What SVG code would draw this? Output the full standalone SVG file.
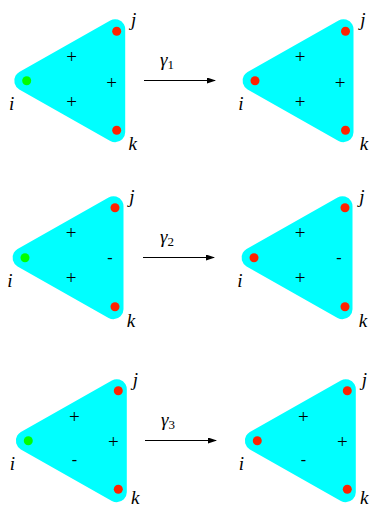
<svg xmlns="http://www.w3.org/2000/svg" width="372" height="508" viewBox="0 0 372 508">
<defs>
<style>
.tri{fill:#00ffff;stroke:#00ffff;stroke-width:20;stroke-linejoin:round}
.g{fill:#00ff00}
.r{fill:#ff2200}
.lab{font-family:'Liberation Serif',serif;font-style:italic;font-size:19px;fill:#000;text-anchor:middle}
.sg{font-family:'Liberation Serif',serif;font-size:19px;fill:#000;text-anchor:middle}
.mn{font-family:'Liberation Serif',serif;font-size:16px;fill:#000;text-anchor:middle}
.gam{font-family:'Liberation Serif',serif;font-style:italic;font-size:19px;fill:#000}
.sub{font-family:'Liberation Serif',serif;font-size:13px;fill:#000}
.arr{stroke:#000;stroke-width:1;fill:none;marker-end:url(#ah)}
</style>
<marker id="ah" markerWidth="9" markerHeight="6" refX="8" refY="3" orient="auto" markerUnits="userSpaceOnUse">
<path d="M0,0 L9,3 L0,6 Z" fill="#000"/>
</marker>
<polygon id="shape" class="tri" points="-2.5,0 88.5,-51.5 88.5,51.5"/>
</defs>

<g id="row1-left" transform="translate(26.7,80.7)">
<use href="#shape"/>
<circle class="g" cx="0" cy="0" r="4.5"/>
<circle class="r" cx="90" cy="-49.5" r="4.5"/>
<circle class="r" cx="90" cy="49.5" r="4.5"/>
<text class="sg" x="45" y="-17.5">+</text>
<text class="sg" x="45" y="27.5">+</text>
<text class="sg" x="85" y="8.5">+</text>
<text class="lab" x="-15" y="29.5">i</text>
<text class="lab" x="107" y="-55">j</text>
<text class="lab" x="106" y="69">k</text>
</g>

<g id="row1-right" transform="translate(255,80.7)">
<use href="#shape"/>
<circle class="r" cx="0" cy="0" r="4.5"/>
<circle class="r" cx="90.5" cy="-49.5" r="4.5"/>
<circle class="r" cx="90.5" cy="49.5" r="4.5"/>
<text class="sg" x="45" y="-17.5">+</text>
<text class="sg" x="45" y="27.5">+</text>
<text class="sg" x="85" y="8.5">+</text>
<text class="lab" x="-14" y="29.5">i</text>
<text class="lab" x="108" y="-55">j</text>
<text class="lab" x="109" y="69">k</text>
</g>

<g id="row2-left" transform="translate(25,257.7)">
<use href="#shape"/>
<circle class="g" cx="0" cy="0" r="4.5"/>
<circle class="r" cx="90" cy="-50" r="4.5"/>
<circle class="r" cx="90" cy="49" r="4.5"/>
<text class="sg" x="46" y="-18.5">+</text>
<text class="sg" x="46" y="26.5">+</text>
<text class="mn" x="85" y="5.5">-</text>
<text class="lab" x="-15" y="29.5">i</text>
<text class="lab" x="107" y="-55">j</text>
<text class="lab" x="106" y="69">k</text>
</g>

<g id="row2-right" transform="translate(254,257.7)">
<use href="#shape"/>
<circle class="r" cx="0" cy="0" r="4.5"/>
<circle class="r" cx="91" cy="-50" r="4.5"/>
<circle class="r" cx="91" cy="49" r="4.5"/>
<text class="sg" x="46" y="-18.5">+</text>
<text class="sg" x="46" y="26.5">+</text>
<text class="mn" x="85" y="5.5">-</text>
<text class="lab" x="-14" y="29.5">i</text>
<text class="lab" x="108" y="-55">j</text>
<text class="lab" x="109" y="69">k</text>
</g>

<g id="row3-left" transform="translate(28.3,440.7)">
<use href="#shape"/>
<circle class="g" cx="0" cy="0" r="4.5"/>
<circle class="r" cx="90" cy="-50" r="4.5"/>
<circle class="r" cx="90" cy="48.6" r="4.5"/>
<text class="sg" x="46" y="-17.5">+</text>
<text class="sg" x="85" y="7.5">+</text>
<text class="mn" x="46" y="24.5">-</text>
<text class="lab" x="-16" y="29.5">i</text>
<text class="lab" x="107" y="-55">j</text>
<text class="lab" x="107" y="63">k</text>
</g>

<g id="row3-right" transform="translate(257.3,440.7)">
<use href="#shape"/>
<circle class="r" cx="0" cy="0" r="4.5"/>
<circle class="r" cx="90" cy="-50" r="4.5"/>
<circle class="r" cx="90" cy="48.6" r="4.5"/>
<text class="sg" x="46" y="-17.5">+</text>
<text class="sg" x="85" y="7.5">+</text>
<text class="mn" x="46" y="24.5">-</text>
<text class="lab" x="-16" y="29.5">i</text>
<text class="lab" x="107" y="-55">j</text>
<text class="lab" x="107" y="63">k</text>
</g>

<g id="connectors">
<line class="arr" x1="144" y1="80.5" x2="215" y2="80.5"/>
<text x="160" y="66"><tspan class="gam">γ</tspan><tspan class="sub" dy="3">1</tspan></text>
<line class="arr" x1="143" y1="257.5" x2="214" y2="257.5"/>
<text x="160" y="243"><tspan class="gam">γ</tspan><tspan class="sub" dy="3">2</tspan></text>
<line class="arr" x1="145" y1="440.5" x2="216" y2="440.5"/>
<text x="161" y="426"><tspan class="gam">γ</tspan><tspan class="sub" dy="3">3</tspan></text>
</g>
</svg>
